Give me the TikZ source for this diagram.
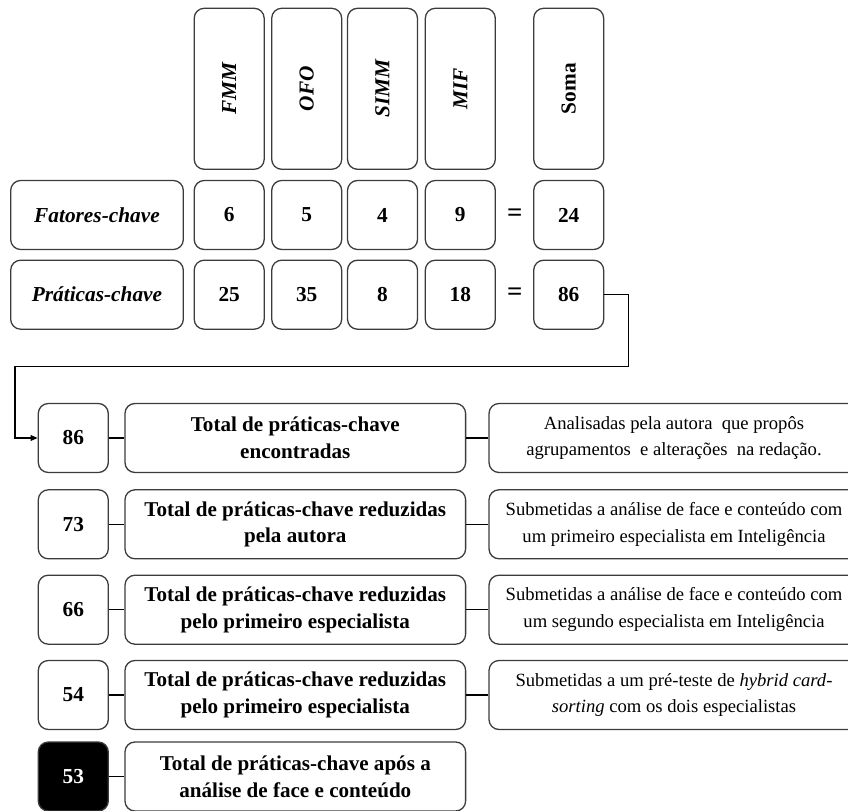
\documentclass[tikz,border=0pt]{standalone}
\usepackage{fontspec}
\setmainfont{Liberation Serif}
\usepackage{graphicx}
\usetikzlibrary{arrows.meta, positioning}

\definecolor{boxline}{RGB}{60, 60, 60}

\tikzset{
  card/.style={draw=boxline, line width=1.1pt, rounded corners=3mm, fill=white, inner sep=0pt, align=center},
  headcard/.style={card, minimum width=21mm, minimum height=48.3mm, font=\fontsize{18.2}{22.8}\selectfont\bfseries},
  numcard/.style={card, minimum width=21mm, minimum height=20.7mm, font=\fontsize{18.2}{22.8}\selectfont\bfseries},
  rowcard/.style={card, minimum width=51.8mm, minimum height=20.7mm, font=\fontsize{18.2}{22.8}\selectfont\bfseries\itshape},
  stagecard/.style={card, minimum width=102.2mm, minimum height=20.7mm, font=\fontsize{18}{22.8}\selectfont\bfseries},
  notecard/.style={card, minimum width=111mm, minimum height=20.7mm, font=\fontsize{15.9}{22.8}\selectfont},
  eqsign/.style={font=\fontsize{23}{24}\selectfont\bfseries, inner sep=0pt},
  link/.style={line width=1.1pt, black},
}

\begin{document}
\begin{tikzpicture}[x=0.3mm, y=-0.3mm]
  \useasboundingbox (0,0) rectangle (848,811);
  \clip (0,0) rectangle (848,811);

  % Column headers
  \node[headcard] (hFMM) at (229.2, 88.8) {\rotatebox{90}{\itshape FMM}};
  \node[headcard] (hOFO) at (306.7, 88.8) {\rotatebox{90}{\itshape OFO}};
  \node[headcard] (hSIMM) at (382.5, 88.8) {\rotatebox{90}{\itshape SIMM}};
  \node[headcard] (hMIF) at (460.3, 88.8) {\rotatebox{90}{\itshape MIF}};
  \node[headcard] (hSoma) at (568.7, 88.8) {\rotatebox{90}{Soma}};

  % Fatores-chave row
  \node[rowcard] (rowFat) at (97, 215) {Fatores-chave};
  \node[numcard] (fat1) at (229.2, 215) {6};
  \node[numcard] (fat2) at (306.7, 215) {5};
  \node[numcard] (fat3) at (382.5, 215) {4};
  \node[numcard] (fat4) at (460.3, 215) {9};
  \node[eqsign] (eqFat) at (514.7, 215) {=};
  \node[numcard] (fatSum) at (568.7, 215) {24};

  % Praticas-chave row
  \node[rowcard] (rowPrat) at (97, 294.7) {Práticas-chave};
  \node[numcard] (prat1) at (229.2, 294.7) {25};
  \node[numcard] (prat2) at (306.7, 294.7) {35};
  \node[numcard] (prat3) at (382.5, 294.7) {8};
  \node[numcard] (prat4) at (460.3, 294.7) {18};
  \node[eqsign] (eqPrat) at (514.7, 294.7) {=};
  \node[numcard] (pratSum) at (568.7, 294.7) {86};

  % Reduction steps
  \node[numcard] (n86) at (73.3, 438) {86};
  \node[stagecard] (t86) at (295.3, 438) {Total de práticas-chave\\encontradas};
  \node[notecard] (d86) at (674, 438) {Analisadas pela autora \ que propôs\\agrupamentos \ e alterações \ na redação.};

  \node[numcard] (n73) at (73.3, 524.3) {73};
  \node[stagecard] (t73) at (295.3, 524.3) {Total de práticas-chave reduzidas\\pela autora};
  \node[notecard] (d73) at (674, 524.3) {Submetidas a análise de face e conteúdo com\\um primeiro especialista em Inteligência};

  \node[numcard] (n66) at (73.3, 609.7) {66};
  \node[stagecard] (t66) at (295.3, 609.7) {Total de práticas-chave reduzidas\\pelo primeiro especialista};
  \node[notecard] (d66) at (674, 609.7) {Submetidas a análise de face e conteúdo com\\um segundo especialista em Inteligência};

  \node[numcard] (n54) at (73.3, 695) {54};
  \node[stagecard] (t54) at (295.3, 695) {Total de práticas-chave reduzidas\\pelo primeiro especialista};
  \node[notecard] (d54) at (674, 695) {Submetidas a um pré-teste de \textit{hybrid card-}\\\textit{sorting} com os dois especialistas};

  \node[numcard, fill=black, text=white] (n53) at (73.3, 776.5) {53};
  \node[stagecard] (t53) at (295.3, 776.5) {Total de práticas-chave após a\\análise de face e conteúdo};

  % Links between steps
  \draw[link] (n86.east) -- (t86.west);
  \draw[link] (t86.east) -- (d86.west);
  \draw[link] (n73.east) -- (t73.west);
  \draw[link] (t73.east) -- (d73.west);
  \draw[link] (n66.east) -- (t66.west);
  \draw[link] (t66.east) -- (d66.west);
  \draw[link] (n54.east) -- (t54.west);
  \draw[link] (t54.east) -- (d54.west);
  \draw[link] (n53.east) -- (t53.west);

  % Sum carried down to the first step
  \coordinate (turnR) at (628.3, 366.7);
  \coordinate (turnL) at (15, 366.7);
  \draw[link, -{Triangle[length=2.1mm, width=1.7mm]}] (pratSum.east) -| (turnR) -- (turnL) |- (n86.west);
\end{tikzpicture}
\end{document}
